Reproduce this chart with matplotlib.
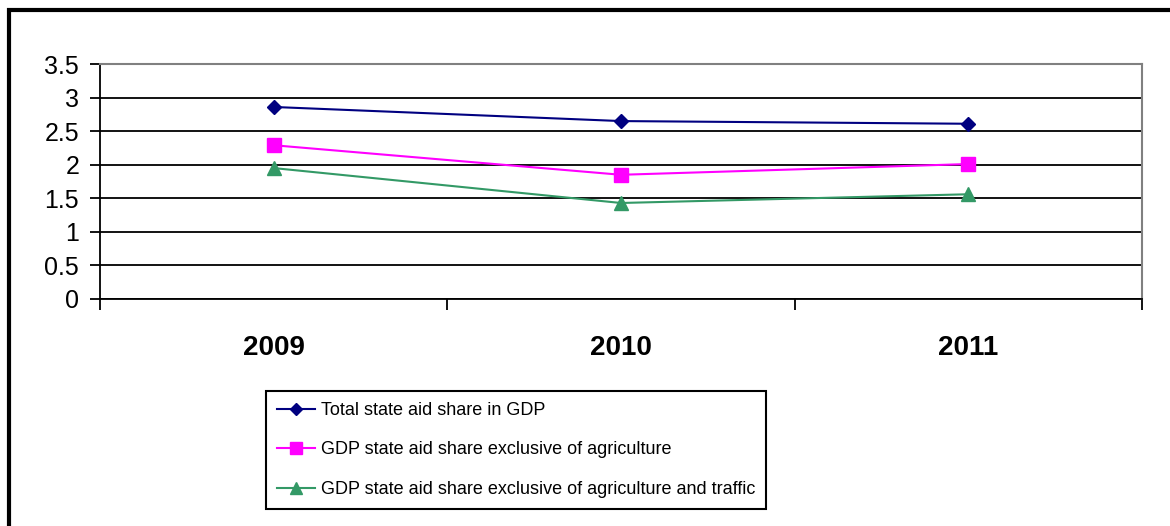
import matplotlib
matplotlib.use('Agg')
import matplotlib.pyplot as plt
from matplotlib.lines import Line2D
from matplotlib.ticker import FuncFormatter

plt.rcParams['font.family'] = ['Liberation Sans', 'DejaVu Sans']

years = ['2009', '2010', '2011']
total_aid = [2.86, 2.65, 2.61]
excl_agri = [2.29, 1.85, 2.01]
excl_agri_traffic = [1.95, 1.43, 1.56]
labels = ['Total state aid share in GDP',
          'GDP state aid share exclusive of agriculture',
          'GDP state aid share exclusive of agriculture and traffic']

W, H = 1170, 526
fig = plt.figure(figsize=(W / 100, H / 100), dpi=100)

# outer frame (left and top edges visible)
fig.add_artist(Line2D([9 / W, 9 / W], [0, 1 - 8 / H], transform=fig.transFigure,
                      color='black', lw=3, solid_capstyle='butt'))
fig.add_artist(Line2D([7 / W, 1], [1 - 9.5 / H, 1 - 9.5 / H], transform=fig.transFigure,
                      color='black', lw=3, solid_capstyle='butt'))

ax = fig.add_axes([100 / W, 1 - 299 / H, (1142 - 100) / W, (299 - 64) / H])

x = list(range(len(years)))
ax.plot(x, total_aid, color='#000080', lw=1.5, marker='D', ms=7.6, label=labels[0])
ax.plot(x, excl_agri, color='#FF00FF', lw=1.5, marker='s', ms=10, label=labels[1])
ax.plot(x, excl_agri_traffic, color='#339966', lw=1.5, marker='^', ms=10.5, label=labels[2])

ax.set_xlim(-0.5, len(years) - 0.5)
ax.set_ylim(0, 3.5)
ax.set_yticks([i * 0.5 for i in range(8)])
ax.yaxis.set_major_formatter(FuncFormatter(lambda v, p: '%g' % v))

ax.set_xticks([i - 0.5 for i in range(len(years) + 1)])
ax.set_xticklabels([])
ax.set_xticks(x, minor=True)
ax.set_xticklabels(years, minor=True, fontsize=20, fontweight='bold')
ax.tick_params(axis='x', which='major', direction='out', length=8, width=1.3, color='black')
ax.tick_params(axis='x', which='minor', length=0, pad=26)
ax.tick_params(axis='y', direction='out', length=7, width=1.3, labelsize=18, pad=8)

ax.grid(axis='y', color='black', lw=1.3)
ax.set_axisbelow(True)
for side in ['left', 'bottom']:
    ax.spines[side].set_color('black')
    ax.spines[side].set_linewidth(1.3)
for side in ['top', 'right']:
    ax.spines[side].set_color('#808080')
    ax.spines[side].set_linewidth(1.5)

leg = fig.legend(loc='upper left', bbox_to_anchor=(266 / W, 1 - 391 / H),
                 bbox_transform=fig.transFigure, fontsize=13, frameon=True,
                 fancybox=False, edgecolor='black', framealpha=1,
                 handlelength=2.1, handletextpad=0.35, labelspacing=1.25,
                 borderpad=0.6, borderaxespad=0, markerscale=0.8)
leg.get_frame().set_linewidth(1.5)

fig.savefig('out.png', dpi=100, facecolor='white')
